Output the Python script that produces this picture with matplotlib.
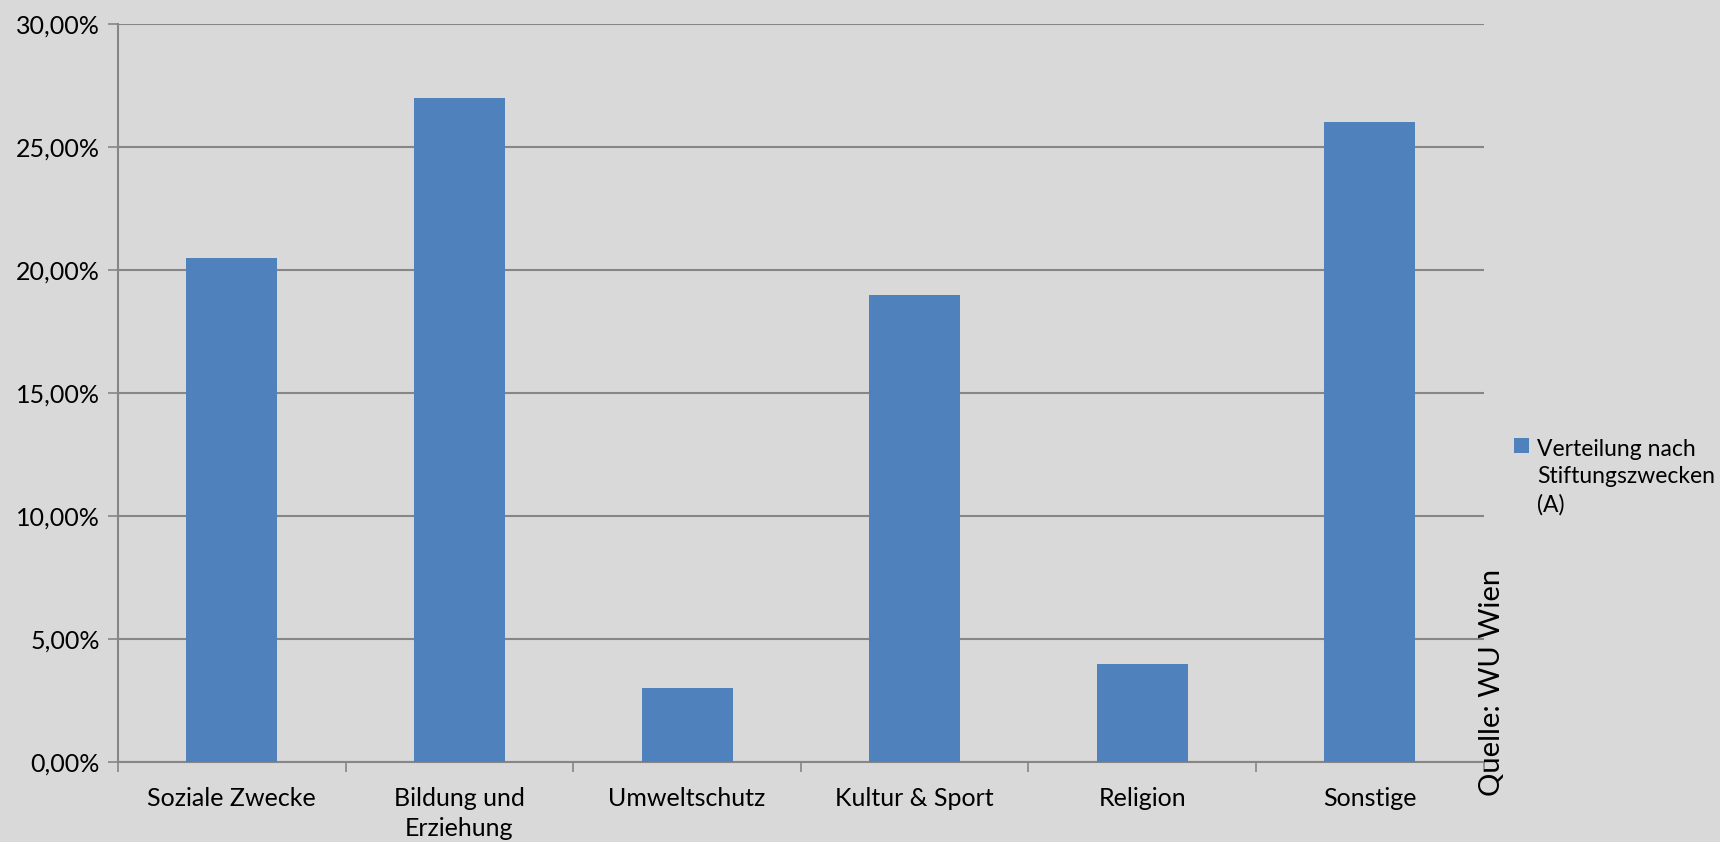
import matplotlib.pyplot as plt
import numpy as np
from matplotlib.ticker import FuncFormatter

plt.rcParams['font.family'] = ['Lato', 'DejaVu Sans']

kategorien = ['Soziale Zwecke', 'Bildung und\nErziehung', 'Umweltschutz',
              'Kultur & Sport', 'Religion', 'Sonstige']
anteile = [20.5, 27.0, 3.0, 19.0, 4.0, 26.0]
serie = 'Verteilung nach\nStiftungszwecken\n(A)'
quelle = 'Quelle: WU Wien'

bg = '#d9d9d9'
grid = '#868686'
fs = 18
lfs = 16.5
lls = 1.4

fig = plt.figure(figsize=(17.2, 8.42), dpi=100, facecolor=bg)
ax = fig.add_axes([0.0686, 0.095, 0.794, 0.8765])
ax.set_facecolor(bg)

x = np.arange(len(kategorien))
ax.bar(x, anteile, width=0.4, color='#4f81bd', label=serie, zorder=3)

ax.set_xlim(-0.5, len(kategorien) - 0.5)
ax.set_ylim(0, 30)
ax.set_yticks(np.arange(0, 31, 5))
ax.yaxis.set_major_formatter(FuncFormatter(lambda v, p: f'{v:.2f}%'.replace('.', ',')))
ax.yaxis.grid(True, color=grid, linewidth=1.5, zorder=0)

ax.set_xticks(x)
ax.set_xticklabels(kategorien, fontsize=fs, linespacing=1.35, va='top')
ax.set_xticks(np.arange(-0.5, len(kategorien)), minor=True)
ax.tick_params(axis='x', which='major', length=0, pad=18)
ax.tick_params(axis='x', which='minor', length=7, width=1.2, color=grid)
ax.tick_params(axis='y', length=7, width=1.2, color=grid, labelsize=fs, pad=6)

for s in ['top', 'right']:
    ax.spines[s].set_visible(False)
for s in ['left', 'bottom']:
    ax.spines[s].set_color(grid)
    ax.spines[s].set_linewidth(1.5)

leg = fig.legend(loc='upper left', bbox_to_anchor=(0.875, 0.49), frameon=False,
                 fontsize=lfs, handlelength=0.65, handleheight=0.65, handletextpad=0.35,
                 borderaxespad=0)
for t in leg.get_texts():
    t.set_linespacing(lls)
h = leg.get_patches()[0]
h.set_y(h.get_y() + lfs * lls)

fig.text(0.8675, 0.19, quelle, rotation=90, fontsize=21, ha='center', va='center')

fig.savefig('out.png', dpi=100, facecolor=bg)
